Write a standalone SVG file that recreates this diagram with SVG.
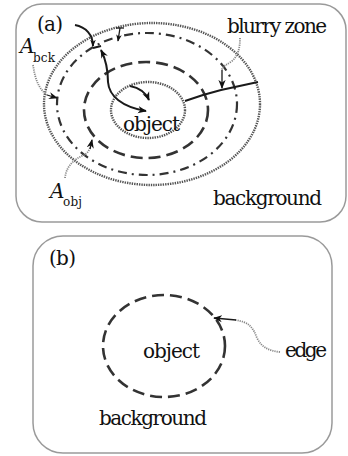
<svg xmlns="http://www.w3.org/2000/svg" width="348" height="456" viewBox="0 0 348 456">
<defs>
<marker id="ah" viewBox="0 0 10 10" refX="9" refY="5" markerWidth="7" markerHeight="7" markerUnits="userSpaceOnUse" orient="auto">
<path d="M0,1 L10,5 L0,9 L3,5 Z" fill="#111"/>
</marker>
<marker id="ahs" viewBox="0 0 10 10" refX="9" refY="5" markerWidth="9" markerHeight="9" markerUnits="userSpaceOnUse" orient="auto-start-reverse">
<path d="M0,1 L10,5 L0,9 L3,5 Z" fill="#111"/>
</marker>
</defs>
<style>
.panel{fill:#fff;stroke:#9a9a9a;stroke-width:1.5}
.dot{fill:none;stroke:#555;stroke-width:2.4;stroke-dasharray:1.4 1}
.dashdot{fill:none;stroke:#333;stroke-width:2.2;stroke-dasharray:9 5 2 5}
.dash{fill:none;stroke:#333;stroke-width:2.6;stroke-dasharray:12 6}
.thick{fill:none;stroke:#1a1a1a;stroke-width:2}
.thin{fill:none;stroke:#1a1a1a;stroke-width:1.3}
.lead{fill:none;stroke:#888;stroke-width:1.8;stroke-dasharray:1.2 1}
.it{font-style:italic}
.sub{font-size:12px}
</style>
<rect width="348" height="456" fill="#fff"/>
<g font-family="'DejaVu Serif', 'Liberation Serif', serif" font-size="20" fill="#111">
<g id="panel-a">
<rect class="panel" x="16" y="4" width="330" height="218" rx="26"/>
<text x="37" y="31" textLength="26">(a)</text>
</g>
<g id="outer-boundary">
<ellipse class="dot" cx="152" cy="104" rx="108" ry="81"/>
</g>
<g id="blurry-boundary">
<ellipse class="dashdot" cx="147" cy="104" rx="90" ry="71"/>
</g>
<g id="object-boundary">
<ellipse class="dash" cx="146" cy="110" rx="62" ry="48"/>
</g>
<g id="object-a">
<ellipse class="dot" cx="148" cy="110" rx="37" ry="28"/>
<text x="123" y="131" textLength="57">object</text>
</g>
<g id="label-bck">
<text x="20" y="53" class="it">A</text>
<text x="33" y="62" class="sub" textLength="22">bck</text>
</g>
<g id="label-obj">
<text x="50" y="198" class="it">A</text>
<text x="63" y="206" class="sub" textLength="19">obj</text>
</g>
<g id="label-blurry">
<text x="227" y="33" textLength="100">blurry zone</text>
</g>
<g id="label-background-a">
<text x="213" y="205" textLength="109">background</text>
</g>
<g id="panel-b">
<rect class="panel" x="33" y="236" width="299" height="217" rx="30"/>
<text x="49" y="265" textLength="27">(b)</text>
</g>
<g id="object-b">
<ellipse cx="164" cy="346" rx="61" ry="51" fill="none" stroke="#333" stroke-width="2.6" stroke-dasharray="12 6"/>
<text x="143" y="358" textLength="57">object</text>
</g>
<g id="label-edge">
<text x="285" y="357" textLength="42">edge</text>
</g>
<g id="label-background-b">
<text x="99" y="425" textLength="108">background</text>
</g>
</g>
<g id="connectors">
<path class="thick" d="M75,25 C86,27 93,35 93,46" marker-end="url(#ah)"/>
<path class="thick" d="M93,48 L101,46"/>
<path class="thick" d="M101,50 C106,60 108,70 108,82 C109,96 122,107 146,111" marker-start="url(#ahs)" marker-end="url(#ahs)"/>
<path class="thin" d="M116,28 L124,28"/>
<path class="thin" d="M120,28 L118,41" marker-end="url(#ah)"/>
<path class="thick" d="M130,86 C140,88 146,93 149,100" marker-end="url(#ahs)"/>
<path class="thick" d="M185,101 L203,95 L221,90 L258,82"/>
<path class="lead" d="M240,38 C240,48 238,56 232,61 C227,65 222,66 222,70"/>
<path class="thin" d="M222,70 L222,88" marker-end="url(#ahs)"/>
<path class="lead" d="M33,65 C35,78 38,88 47,95"/>
<path class="thin" d="M47,95 L57,98" marker-end="url(#ahs)"/>
<path class="lead" d="M65,178 C66,168 72,160 84,155 C88,153 89,150 90,148"/>
<path class="thin" d="M90,149 L92,140" marker-end="url(#ahs)"/>
<path class="lead" d="M280,352 C270,351 262,348 257,338 C253,328 250,322 235,320"/>
<path class="thin" d="M236,320 L214,318" marker-end="url(#ahs)"/>
</g>
</svg>
